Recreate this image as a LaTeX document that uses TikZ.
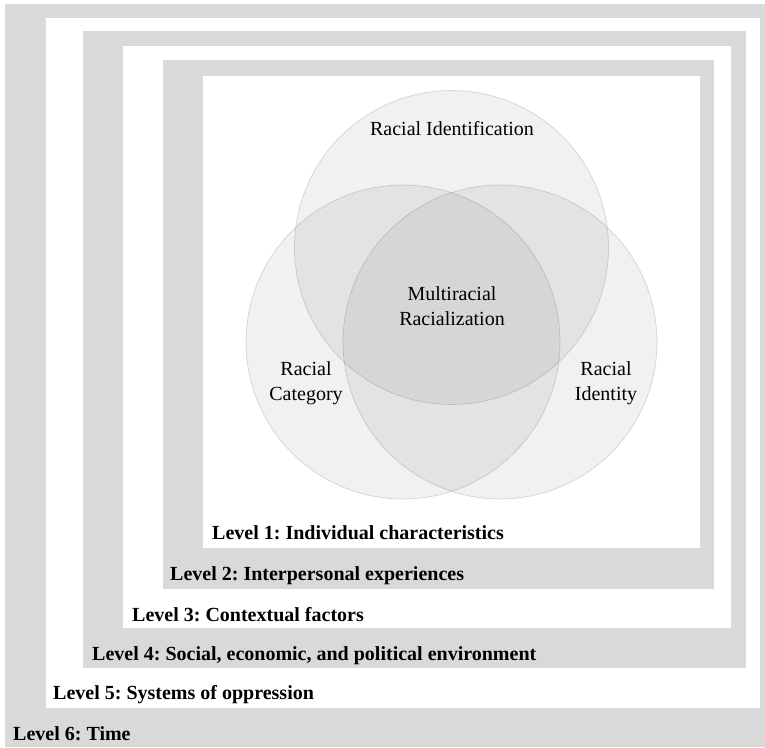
\documentclass[tikz,border=0pt]{standalone}
\usepackage{fontspec}
\setmainfont{Liberation Serif}
\frenchspacing
\definecolor{band}{HTML}{D9D9D9}
\begin{document}
\begin{tikzpicture}[x=1pt,y=-1pt,
  graybox/.style={fill=band,draw=none},
  whitebox/.style={fill=white,draw=none},
  levellabel/.style={anchor=base west,inner sep=0pt,font=\fontsize{20}{24}\selectfont\bfseries},
  venn/.style={circle,minimum size=314pt,inner sep=0pt,fill=black,fill opacity=0.055,draw=black,draw opacity=0.14,line width=0.7pt},
  vennlabel/.style={align=center,inner sep=0pt,font=\fontsize{20}{25}\selectfont,text opacity=1}]
\useasboundingbox (0,0) rectangle (765,747);
\fill[white] (0,0) rectangle (765,747);
% nested levels
\path[graybox]  (5,4) rectangle (765,747);
\path[whitebox] (46,18) rectangle (760,708);
\path[graybox]  (83,31) rectangle (746,668);
\path[whitebox] (123,46) rectangle (731,628);
\path[graybox]  (163,60) rectangle (714,589);
\path[whitebox] (203,76) rectangle (700,548);
% level labels
\node[levellabel] (l1) at (212,539) {Level 1: Individual characteristics};
\node[levellabel] (l2) at (170,580) {Level 2: Interpersonal experiences};
\node[levellabel] (l3) at (132,621) {Level 3: Contextual factors};
\node[levellabel] (l4) at (92,660) {Level 4: Social, economic, and political environment};
\node[levellabel] (l5) at (53,699) {Level 5: Systems of oppression};
\node[levellabel] (l6) at (13,740) {Level 6: Time};
% Venn circles
\node[venn] (cid) at (451.5,247.5) {};
\node[venn] (ccat) at (403,342) {};
\node[venn] (cidy) at (500,342) {};
% labels
\node[vennlabel,anchor=base] (tid) at (452,135) {Racial Identification};
\node[vennlabel] (tmr) at (452,306) {Multiracial\\Racialization};
\node[vennlabel] (tcat) at (306,383) {Racial\\Category};
\node[vennlabel] (tidy) at (606,383) {Racial\\Identity};
\end{tikzpicture}
\end{document}
